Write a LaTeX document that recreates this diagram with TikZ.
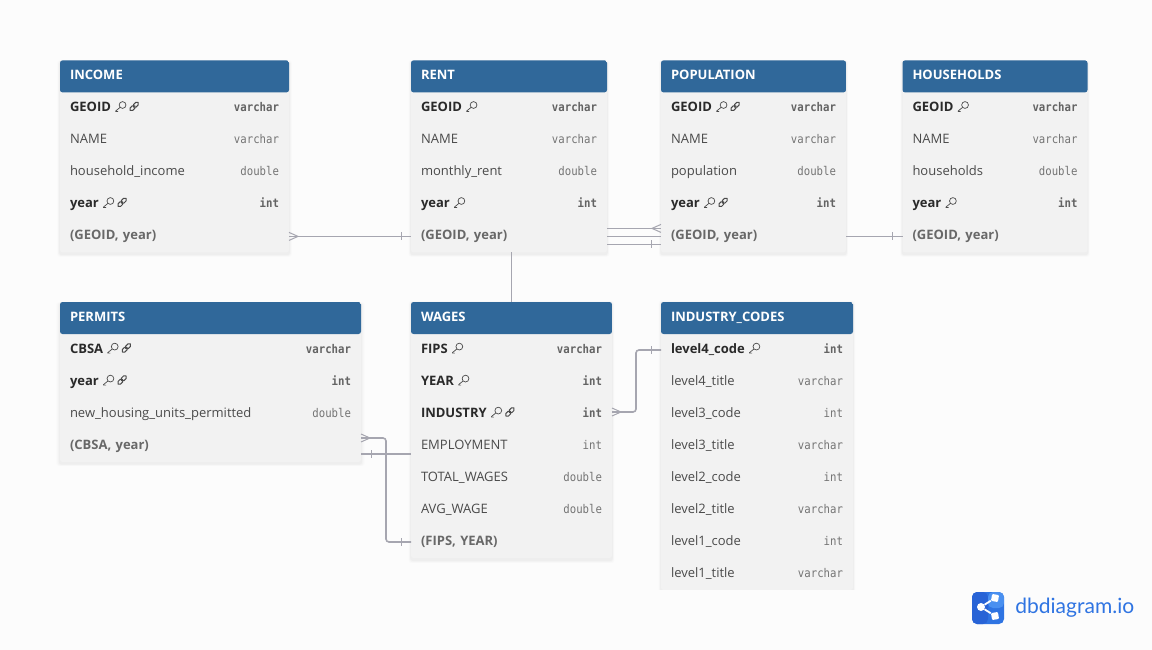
\documentclass[tikz,border=0pt]{standalone}
\usepackage{fontspec}
\setmainfont{Open Sans}
\newfontfamily\typefont[FakeStretch=.89]{DejaVu Sans Mono}
\newfontfamily\logofont{Lato}
\usetikzlibrary{positioning,fit,backgrounds,shadows}
\definecolor{pagebg}{HTML}{FCFCFC}
\definecolor{headblue}{HTML}{30689A}
\definecolor{rowgray}{HTML}{F2F2F2}
\definecolor{linegray}{HTML}{A6A6B0}
\definecolor{namegray}{HTML}{4A4A4A}
\definecolor{boldgray}{HTML}{2A2A2A}
\definecolor{typegray}{HTML}{747474}
\definecolor{logoblue}{HTML}{2F74E2}
\definecolor{logodark}{HTML}{2863D6}
\definecolor{logolight}{HTML}{4A90F0}
\newcommand{\keyicon}{\tikz[baseline=0pt,x=1pt,y=1pt,line width=.7pt]{\draw[namegray] (7.4,6.4) circle (3.4); \draw[namegray] (4.9,4) -- (.5,.4) -- (.5,-.1) -- (3,-.1);}}
\newcommand{\linkicon}{\tikz[baseline=0pt,x=1pt,y=1pt,line width=1pt]{\draw[namegray,rounded corners=1.7pt,rotate around={45:(5,5)}] (-.6,3.2) rectangle (5.8,6.8); \draw[namegray,rounded corners=1.7pt,rotate around={45:(5,5)}] (4.2,3.2) rectangle (10.6,6.8);}}
\begin{document}
\begin{tikzpicture}[x=1pt,y=-1pt,
		head/.style={rectangle, anchor=north west, outer sep=0pt, text=white, font=\fontsize{13}{13}\selectfont\bfseries, minimum height=32pt, inner xsep=10pt, inner ysep=0pt, text height=10pt, text depth=4pt, align=left},
		field/.style={rectangle, outer sep=0pt, text=namegray, font=\fontsize{13}{13}\selectfont, minimum height=32pt, inner xsep=10pt, inner ysep=0pt, text height=10pt, text depth=4pt, align=left},
		keyfield/.style={field, text=boldgray, font=\fontsize{13}{13}\selectfont\bfseries},
		idxfield/.style={field, text=typegray!90!black, font=\fontsize{13}{13}\selectfont\bfseries},
		ftype/.style={anchor=east, inner sep=0pt, outer sep=0pt, xshift=-10pt, text height=10pt, text depth=4pt, text=typegray, font=\fontsize{12}{12}\selectfont\typefont},
		keytype/.style={ftype, text=typegray!85!black, font=\fontsize{12}{12}\selectfont\typefont\bfseries},
		tablebox/.style={rectangle, rounded corners=2.5pt, inner sep=0pt, outer sep=0pt, fill=rowgray,
			general shadow={fill=black, opacity=.012, shadow yshift=-2pt, shadow scale=1.024},
			general shadow={fill=black, opacity=.018, shadow yshift=-2pt, shadow scale=1.016},
			general shadow={fill=black, opacity=.025, shadow yshift=-2pt, shadow scale=1.008},
			path picture={\fill[headblue] (path picture bounding box.north west) rectangle ([yshift=-32pt]path picture bounding box.north east);}},
		link/.style={draw=linegray, line width=1.6pt},
		tick/.style={draw=linegray, line width=1pt}
	]
	\path[use as bounding box] (0,0) rectangle (1152,650);

	% INCOME
	\node[head, minimum width=229pt, text width=209pt] (income) at (60,60.4) {INCOME};
	\node[keyfield, text width=209pt, below=0pt of income] (income1) {GEOID \keyicon\,\linkicon};
	\node[field, text width=209pt, below=0pt of income1] (income2) {NAME};
	\node[field, text width=209pt, below=0pt of income2] (income3) {household\_income};
	\node[keyfield, text width=209pt, below=0pt of income3] (income4) {year \keyicon\,\linkicon};
	\node[idxfield, text width=209pt, below=0pt of income4] (income5) {(GEOID, year)};
	\node[keytype] (income1t) at (income1.east) {varchar};
	\node[ftype] (income2t) at (income2.east) {varchar};
	\node[ftype] (income3t) at (income3.east) {double};
	\node[keytype] (income4t) at (income4.east) {int};

	% RENT
	\node[head, minimum width=196pt, text width=176pt] (rent) at (411,60.4) {RENT};
	\node[keyfield, text width=176pt, below=0pt of rent] (rent1) {GEOID \keyicon};
	\node[field, text width=176pt, below=0pt of rent1] (rent2) {NAME};
	\node[field, text width=176pt, below=0pt of rent2] (rent3) {monthly\_rent};
	\node[keyfield, text width=176pt, below=0pt of rent3] (rent4) {year \keyicon};
	\node[idxfield, text width=176pt, below=0pt of rent4] (rent5) {(GEOID, year)};
	\node[keytype] (rent1t) at (rent1.east) {varchar};
	\node[ftype] (rent2t) at (rent2.east) {varchar};
	\node[ftype] (rent3t) at (rent3.east) {double};
	\node[keytype] (rent4t) at (rent4.east) {int};

	% POPULATION
	\node[head, minimum width=185pt, text width=165pt] (population) at (661,60.4) {POPULATION};
	\node[keyfield, text width=165pt, below=0pt of population] (population1) {GEOID \keyicon\,\linkicon};
	\node[field, text width=165pt, below=0pt of population1] (population2) {NAME};
	\node[field, text width=165pt, below=0pt of population2] (population3) {population};
	\node[keyfield, text width=165pt, below=0pt of population3] (population4) {year \keyicon\,\linkicon};
	\node[idxfield, text width=165pt, below=0pt of population4] (population5) {(GEOID, year)};
	\node[keytype] (population1t) at (population1.east) {varchar};
	\node[ftype] (population2t) at (population2.east) {varchar};
	\node[ftype] (population3t) at (population3.east) {double};
	\node[keytype] (population4t) at (population4.east) {int};

	% HOUSEHOLDS
	\node[head, minimum width=185pt, text width=165pt] (households) at (902.5,60.4) {HOUSEHOLDS};
	\node[keyfield, text width=165pt, below=0pt of households] (households1) {GEOID \keyicon};
	\node[field, text width=165pt, below=0pt of households1] (households2) {NAME};
	\node[field, text width=165pt, below=0pt of households2] (households3) {households};
	\node[keyfield, text width=165pt, below=0pt of households3] (households4) {year \keyicon};
	\node[idxfield, text width=165pt, below=0pt of households4] (households5) {(GEOID, year)};
	\node[keytype] (households1t) at (households1.east) {varchar};
	\node[ftype] (households2t) at (households2.east) {varchar};
	\node[ftype] (households3t) at (households3.east) {double};
	\node[keytype] (households4t) at (households4.east) {int};

	% PERMITS
	\node[head, minimum width=301pt, text width=281pt] (permits) at (60,302) {PERMITS};
	\node[keyfield, text width=281pt, below=0pt of permits] (permits1) {CBSA \keyicon\,\linkicon};
	\node[keyfield, text width=281pt, below=0pt of permits1] (permits2) {year \keyicon\,\linkicon};
	\node[field, text width=281pt, below=0pt of permits2] (permits3) {new\_housing\_units\_permitted};
	\node[idxfield, text width=281pt, below=0pt of permits3] (permits4) {(CBSA, year)};
	\node[keytype] (permits1t) at (permits1.east) {varchar};
	\node[keytype] (permits2t) at (permits2.east) {int};
	\node[ftype] (permits3t) at (permits3.east) {double};

	% WAGES
	\node[head, minimum width=201pt, text width=181pt] (wages) at (411,302) {WAGES};
	\node[keyfield, text width=181pt, below=0pt of wages] (wages1) {FIPS \keyicon};
	\node[keyfield, text width=181pt, below=0pt of wages1] (wages2) {YEAR \keyicon};
	\node[keyfield, text width=181pt, below=0pt of wages2] (wages3) {INDUSTRY \keyicon\,\linkicon};
	\node[field, text width=181pt, below=0pt of wages3] (wages4) {EMPLOYMENT};
	\node[field, text width=181pt, below=0pt of wages4] (wages5) {TOTAL\_WAGES};
	\node[field, text width=181pt, below=0pt of wages5] (wages6) {AVG\_WAGE};
	\node[idxfield, text width=181pt, below=0pt of wages6] (wages7) {(FIPS, YEAR)};
	\node[keytype] (wages1t) at (wages1.east) {varchar};
	\node[keytype] (wages2t) at (wages2.east) {int};
	\node[keytype] (wages3t) at (wages3.east) {int};
	\node[ftype] (wages4t) at (wages4.east) {int};
	\node[ftype] (wages5t) at (wages5.east) {double};
	\node[ftype] (wages6t) at (wages6.east) {double};

	% INDUSTRY_CODES
	\node[head, minimum width=192pt, text width=172pt] (industry) at (661,302) {INDUSTRY\_CODES};
	\node[keyfield, text width=172pt, below=0pt of industry] (industry1) {level4\_code \keyicon};
	\node[field, text width=172pt, below=0pt of industry1] (industry2) {level4\_title};
	\node[field, text width=172pt, below=0pt of industry2] (industry3) {level3\_code};
	\node[field, text width=172pt, below=0pt of industry3] (industry4) {level3\_title};
	\node[field, text width=172pt, below=0pt of industry4] (industry5) {level2\_code};
	\node[field, text width=172pt, below=0pt of industry5] (industry6) {level2\_title};
	\node[field, text width=172pt, below=0pt of industry6] (industry7) {level1\_code};
	\node[field, text width=172pt, below=0pt of industry7] (industry8) {level1\_title};
	\node[keytype] (industry1t) at (industry1.east) {int};
	\node[ftype] (industry2t) at (industry2.east) {varchar};
	\node[ftype] (industry3t) at (industry3.east) {int};
	\node[ftype] (industry4t) at (industry4.east) {varchar};
	\node[ftype] (industry5t) at (industry5.east) {int};
	\node[ftype] (industry6t) at (industry6.east) {varchar};
	\node[ftype] (industry7t) at (industry7.east) {int};
	\node[ftype] (industry8t) at (industry8.east) {varchar};

	\begin{scope}[on background layer]
		\path[fill=pagebg] (0,0) rectangle (1152,650);
		\node[tablebox, fit=(income)(income5)] (incomebox) {};
		\node[tablebox, fit=(rent)(rent5)] (rentbox) {};
		\node[tablebox, fit=(population)(population5)] (populationbox) {};
		\node[tablebox, fit=(households)(households5)] (householdsbox) {};
		\node[tablebox, fit=(permits)(permits4)] (permitsbox) {};
		\node[tablebox, fit=(wages)(wages7)] (wagesbox) {};
		\begin{scope}
			\clip (640,290) rectangle (875,589.5);
			\node[tablebox, fit=(industry)(industry8)] (industrybox) {};
		\end{scope}
	\end{scope}

	\begin{scope}[link]
		\draw (income5.east) -- (rent5.west);
		\draw ([yshift=8pt]rent5.east) -- ([yshift=8pt]population5.west);
		\draw (rent5.east) -- (population5.west);
		\draw ([yshift=-8pt]rent5.east) -- ([yshift=-8pt]population5.west);
		\draw (population5.east) -- (households5.west);
		\draw (wages.north |- rent5.south) -- (wages.north);
		\draw[rounded corners=3pt] ([yshift=8pt]permits4.east) -- ++(25,0) |- (wages7.west);
		\draw ([yshift=-8pt]permits4.east) -- ([yshift=-8pt]wages4.west);
		\draw[rounded corners=3pt] ([yshift=2pt]wages3.east) -- ++(24,0) |- (industry1.west);
	\end{scope}
	\begin{scope}[tick]
		% crow feet
		\draw ([yshift=4pt]income5.east) -- ++(9,4) -- ++(-9,4);
		\draw ([yshift=12pt]population5.west) -- ++(-9,4) -- ++(9,4);
		\draw ([yshift=12pt]permits4.east) -- ++(9,4) -- ++(-9,4);
		\draw ([yshift=6pt]wages3.east) -- ++(9,4) -- ++(-9,4);
		% bars
		\draw ([xshift=-10pt,yshift=4pt]rent5.west) -- ++(0,8);
		\draw ([xshift=-10pt,yshift=-4pt]population5.west) -- ++(0,8);
		\draw ([xshift=-10pt,yshift=4pt]households5.west) -- ++(0,8);
		\draw ([xshift=10pt,yshift=-4pt]permits4.east) -- ++(0,8);
		\draw ([xshift=-10pt,yshift=4pt]wages7.west) -- ++(0,8);
		\draw ([xshift=-10pt,yshift=4pt]industry1.west) -- ++(0,8);
	\end{scope}

	% logo
	\node[rectangle, rounded corners=5pt, fill=logoblue, minimum size=32pt, inner sep=0pt,
		path picture={\fill[logodark] (path picture bounding box.north west) rectangle (path picture bounding box.south);
			\fill[logolight] (path picture bounding box.north) rectangle (path picture bounding box.east);}] (logo) at (988,608) {};
	\node[circle, fill=white, minimum size=8pt, inner sep=0pt] (logoa) at (981,607) {};
	\node[rectangle, rounded corners=1pt, fill=white, minimum size=7pt, inner sep=0pt, rotate=-10] (logob) at (995,598) {};
	\node[rectangle, rounded corners=1pt, fill=white, minimum size=7pt, inner sep=0pt, rotate=10] (logoc) at (995,616) {};
	\draw[white, line width=1.8pt] (logob) -- (logoa) -- (logoc);
	\node[right=11pt of logo, inner sep=0pt, text=logoblue, font=\fontsize{21}{22}\selectfont\logofont] (logotext) {dbdiagram.io};
\end{tikzpicture}
\end{document}
